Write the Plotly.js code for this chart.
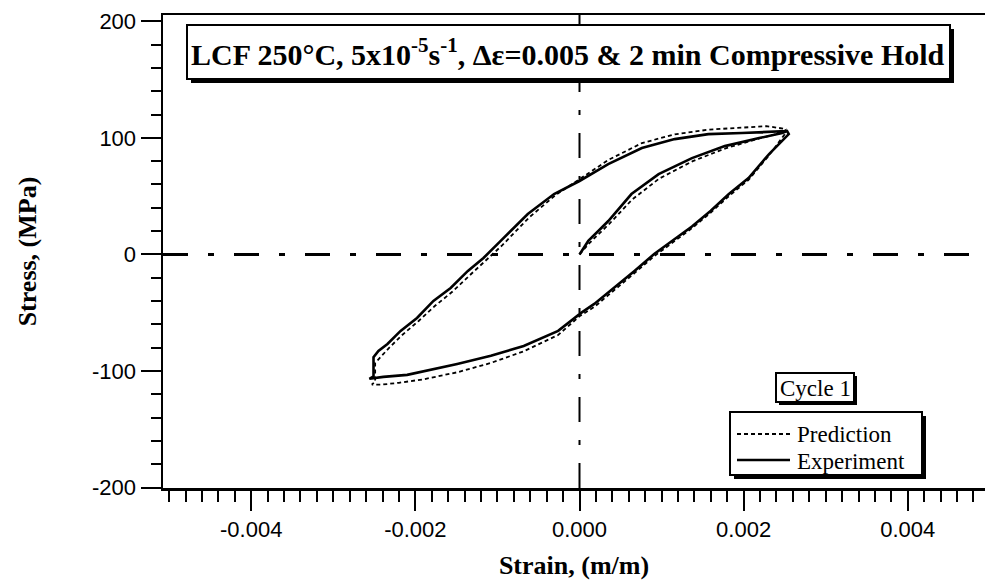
<!DOCTYPE html>
<html>
<head>
<meta charset="utf-8">
<script src="https://cdn.plot.ly/plotly-3.0.1.min.js"></script>
<style>html,body{margin:0;padding:0;background:#fff;}#chart{width:985px;height:586px;}</style>
</head>
<body>
<div id="chart"></div>
<script>
// Experiment: initial loading, unloading, compressive hold, reloading
const expStrain = [0, 0.000107, 0.000266, 0.000351, 0.000633, 0.000964, 0.00137, 0.00177, 0.00219, 0.00247, 0.00253,
  0.00255, 0.00231, 0.00206, 0.00182, 0.00160, 0.00137, 0.00116, 0.00091, 0.00067, 0.00042, 0.00018, 0.00002,
  -0.00026, -0.00068, -0.00108, -0.00149, -0.0019, -0.0021, -0.00239, -0.00256,
  -0.00251, -0.00251,
  -0.00245, -0.00234, -0.00218, -0.00198, -0.00178, -0.00157, -0.00136, -0.00117, -0.00096, -0.00063, -0.00031,
  0.0, 0.00035, 0.00076, 0.00116, 0.00157, 0.00198, 0.00238, 0.00253];
const expStress = [0, 11.6, 22.7, 28.7, 51.8, 68.9, 82.6, 92.9, 99.8, 104.1, 105.8,
  103.2, 86.1, 65.5, 51.8, 37.5, 24.0, 13.0, 0.4, -14.1, -28.7, -42.4, -50.1,
  -65.5, -78.4, -86.9, -93.8, -99.8, -103.2, -104.9, -106.6,
  -104.5, -88,
  -82.7, -76.7, -65.5, -54.4, -39.8, -28.7, -14.1, -3.0, 11.6, 34.7, 51.8,
  63.0, 77.5, 91.2, 98.9, 103.2, 104.1, 105.8, 105.8];

// Prediction
const predStrain = [0, 0.00011, 0.00027, 0.00036, 0.00064, 0.00097, 0.00138, 0.00178, 0.00219, 0.00245, 0.00252,
  0.00250, 0.00231, 0.00206, 0.00182, 0.0016, 0.00137, 0.00116, 0.00091, 0.00067, 0.00042, 0.00018, 0.0,
  -0.00026, -0.00068, -0.00108, -0.00149, -0.0019, -0.0022, -0.0024, -0.00253,
  -0.00249, -0.00249,
  -0.00244, -0.00232, -0.00216, -0.00196, -0.00176, -0.00155, -0.00134, -0.00115, -0.00094, -0.00061, -0.00029,
  0.0, 0.00035, 0.00076, 0.00116, 0.00157, 0.00198, 0.00228, 0.00252];
const predStress = [0, 9, 20, 26, 47, 65, 80, 91, 99.5, 104, 107,
  103, 85, 64, 50, 36, 22.5, 11.5, -1.5, -16, -31, -45, -53,
  -69, -83, -93, -101, -107, -110, -111.5, -111.5,
  -109, -93,
  -89, -80, -69, -57, -44, -32, -18, -6, 8, 32, 51,
  64.5, 81, 95.5, 103, 107, 109, 110, 107.5];

const seriesNames = ['Prediction', 'Experiment'];
const xTickVals = [-0.004, -0.002, 0, 0.002, 0.004];
const xTickText = ['-0.004', '-0.002', '0.000', '0.002', '0.004'];
const yTickVals = [-200, -100, 0, 100, 200];
const yTickText = ['-200', '-100', '0', '100', '200'];

const chartTitle = '<b>LCF 250°C, 5x10<sup>-5</sup>s<sup>-1</sup>, Δε=0.005 &amp; 2 min Compressive Hold</b>';
const xTitle = '<b>Strain, (m/m)</b>';
const yTitle = '<b>Stress, (MPa)</b>';
const cycleLabel = 'Cycle 1';

const serif = 'Liberation Serif, Times New Roman, serif';
const sans = 'Liberation Sans, Arial, sans-serif';
const predLine = {color: 'black', width: 1.8, dash: '4px,3px'};
const expLine = {color: 'black', width: 2.6};
const xRange = [-0.005075, 0.004941];
const yRange = [-200.2, 205.3];

const traces = [
  {x: predStrain, y: predStress, name: seriesNames[0], mode: 'lines', type: 'scatter', line: predLine, showlegend: false},
  {x: expStrain, y: expStress, name: seriesNames[1], mode: 'lines', type: 'scatter', line: expLine, showlegend: false}
];

const W = 822, H = 473; // plot area size in px
function PX(p) { return (p - 163) / W; }
function PY(p) { return (488 - p) / H; }
function box(x0, y0, x1, y1, sh) { // page pixel coords, with drop shadow
  return [
    {type: 'rect', xref: 'paper', yref: 'paper', x0: PX(x0 + sh), x1: PX(x1 + sh), y0: PY(y1 + sh), y1: PY(y0 + sh),
     fillcolor: 'black', line: {width: 0}, layer: 'above'},
    {type: 'rect', xref: 'paper', yref: 'paper', x0: PX(x0), x1: PX(x1), y0: PY(y1), y1: PY(y0),
     fillcolor: 'white', line: {color: 'black', width: 2}, layer: 'above'}
  ];
}
const shapes = [
  {type: 'line', xref: 'paper', yref: 'y', x0: 0, x1: 1, y0: 0, y1: 0,
   line: {color: 'black', width: 3, dash: '25px,20px,6px,20px'}, layer: 'below'},
  {type: 'line', xref: 'x', yref: 'paper', x0: 0, x1: 0, y0: 0, y1: 1,
   line: {color: 'black', width: 2, dash: '25px,18px,5px,18px'}, layer: 'below'},
  ...box(187, 25, 950, 79, 4),
  ...box(776, 373, 854, 402, 3),
  ...box(730, 412, 922, 475, 4),
  {type: 'line', xref: 'paper', yref: 'paper', x0: PX(737), x1: PX(790), y0: PY(434), y1: PY(434), line: predLine, layer: 'above'},
  {type: 'line', xref: 'paper', yref: 'paper', x0: PX(737), x1: PX(790), y0: PY(460), y1: PY(460), line: expLine, layer: 'above'}
];

const layout = {
  width: 985, height: 586,
  margin: {l: 163, r: 0, t: 15, b: 98, pad: 0},
  paper_bgcolor: 'white', plot_bgcolor: 'white',
  showlegend: false,
  xaxis: {
    range: xRange, showgrid: false, zeroline: false,
    showline: true, linecolor: 'black', linewidth: 2.5, mirror: true,
    ticks: 'outside', ticklen: 20, tickwidth: 2, tickcolor: 'black',
    tickmode: 'array', tickvals: xTickVals, ticktext: xTickText,
    tickfont: {family: sans, size: 22, color: 'black'},
    minor: {ticks: 'outside', ticklen: 11, tickwidth: 2, tickcolor: 'black', tickmode: 'linear', tick0: 0, dtick: 0.0002, showgrid: false},
    title: {text: xTitle, font: {family: serif, size: 26, color: 'black'}, standoff: 15},
    automargin: false
  },
  yaxis: {
    range: yRange, showgrid: false, zeroline: false,
    showline: true, linecolor: 'black', linewidth: 2.5,
    ticks: 'outside', ticklen: 20, tickwidth: 2, tickcolor: 'black',
    tickmode: 'array', tickvals: yTickVals, ticktext: yTickText, dtick: 100, nticks: 5,
    tickfont: {family: sans, size: 22, color: 'black'},
    minor: {ticks: 'outside', ticklen: 10, tickwidth: 2, tickcolor: 'black', tickmode: 'linear', tick0: 0, dtick: 20, showgrid: false},
    title: {text: yTitle, font: {family: serif, size: 26, color: 'black'}, standoff: 48},
    automargin: false
  },
  shapes: shapes,
  annotations: [
    {xref: 'paper', yref: 'paper', x: PX(568), y: PY(52), xanchor: 'center', yanchor: 'middle',
     text: chartTitle, showarrow: false, font: {family: serif, size: 30, color: 'black'}},
    {xref: 'paper', yref: 'paper', x: PX(815), y: PY(388), xanchor: 'center', yanchor: 'middle',
     text: cycleLabel, showarrow: false, font: {family: serif, size: 23, color: 'black'}},
    {xref: 'paper', yref: 'paper', x: PX(795), y: PY(434), xanchor: 'left', yanchor: 'middle',
     text: seriesNames[0], showarrow: false, font: {family: serif, size: 23, color: 'black'}},
    {xref: 'paper', yref: 'paper', x: PX(795), y: PY(461), xanchor: 'left', yanchor: 'middle',
     text: seriesNames[1], showarrow: false, font: {family: serif, size: 23, color: 'black'}}
  ]
};

Plotly.newPlot('chart', traces, layout, {displayModeBar: false, staticPlot: true});
</script>
</body>
</html>
